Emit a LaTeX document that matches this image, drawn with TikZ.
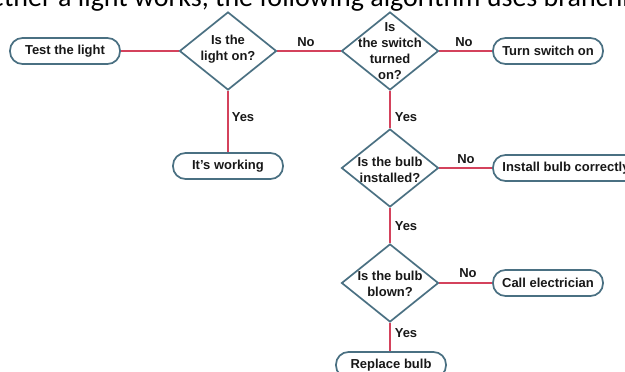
\documentclass[tikz,border=0pt]{standalone}
\usepackage{fontspec}
\setmainfont{Liberation Sans}
\newfontfamily\introfont{Carlito}
\usetikzlibrary{shapes.geometric,backgrounds}
\definecolor{edgeline}{RGB}{212,66,92}
\definecolor{shapeline}{RGB}{74,112,130}
\definecolor{inktext}{RGB}{24,24,24}

\begin{document}
\begin{tikzpicture}[x=1pt,y=-1pt,
  decision/.style={diamond, draw=shapeline, line width=1.7pt, fill=white,
    minimum width=97pt, minimum height=78pt, inner sep=0pt},
  dtext/.style={font=\fontsize{13}{16}\selectfont\bfseries, text=inktext,
    align=center, inner sep=0pt},
  terminal/.style={rectangle, rounded corners=12.5pt, draw=shapeline,
    line width=1.7pt, fill=white, minimum height=26pt, minimum width=110pt,
    inner sep=0pt, text=inktext, font=\fontsize{13}{15}\selectfont\bfseries},
  link/.style={draw=edgeline, line width=1.8pt},
  tag/.style={font=\fontsize{13}{15}\selectfont\bfseries, text=inktext,
    inner sep=0pt}]

\useasboundingbox (0,0) rectangle (625,372);
\clip (0,0) rectangle (625,372);

% running text above the chart
\node[anchor=base west, inner sep=0pt, font=\introfont\fontsize{28}{32}\selectfont]
  (intro) at (58,6) {\llap{whether\ }a light works, the following algorithm uses branching};

% start and end points
\node[terminal] (test)    at (65,51)   {Test the light};
\node[terminal] (working) at (228,166) {It's working};
\node[terminal] (switch)  at (548,51)  {Turn switch on};
\node[terminal, minimum width=146pt] (install) at (566,168) {Install bulb correctly};
\node[terminal] (callel)  at (548,283) {Call electrician};
\node[terminal] (replace) at (391,365) {Replace bulb};

% decisions
\node[decision] (d1) at (228,51)  {};
\node[decision] (d2) at (390,51)  {};
\node[decision] (d3) at (390,168) {};
\node[decision] (d4) at (390,283) {};
\node[dtext] (d1t) at (228,49)  {Is the\\light on?};
\node[dtext] (d2t) at (390,51)  {Is\\the switch\\turned\\on?};
\node[dtext] (d3t) at (390,170) {Is the bulb\\installed?};
\node[dtext] (d4t) at (390,284) {Is the bulb\\blown?};

% branch labels
\node[tag] (n1) at (306,42)  {No};
\node[tag] (n2) at (464,42)  {No};
\node[tag] (n3) at (466,159) {No};
\node[tag] (n4) at (468,273) {No};
\node[tag] (y1) at (243,117) {Yes};
\node[tag] (y2) at (406,117) {Yes};
\node[tag] (y3) at (406,226) {Yes};
\node[tag] (y4) at (406,333) {Yes};

% connectors
\begin{pgfonlayer}{background}
  \draw[link] (test.east) -- (d1.west);
  \draw[link] (d1.east) -- (d2.west);
  \draw[link] (d2.east) -- (switch.west);
  \draw[link] (d1.south) -- (working.north);
  \draw[link] (d2.south) -- (d3.north);
  \draw[link] (d3.east) -- (install.west);
  \draw[link] (d3.south) -- (d4.north);
  \draw[link] (d4.east) -- (callel.west);
  \draw[link] (d4.south) -- (replace.north -| d4.south);
\end{pgfonlayer}
\end{tikzpicture}
\end{document}
